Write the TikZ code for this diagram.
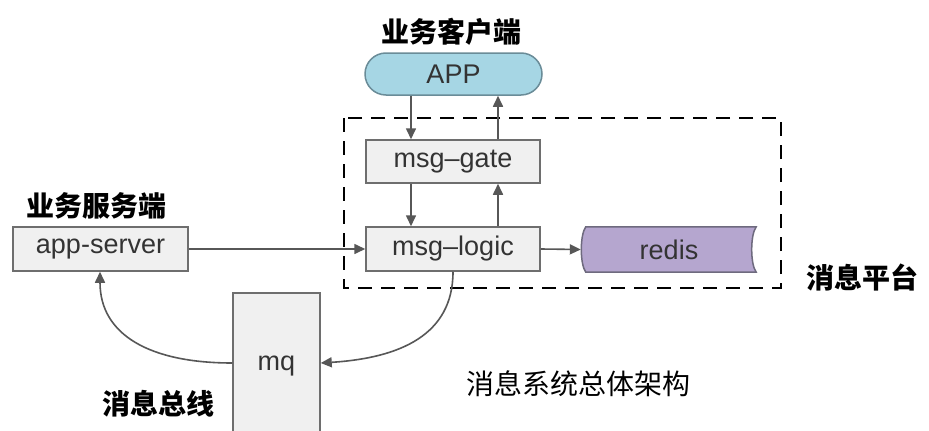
\documentclass[tikz,border=0pt]{standalone}
\usepackage{fontspec}
\setmainfont{Liberation Sans}
\newfontfamily\cjk{Noto Sans CJK SC}
\usetikzlibrary{arrows.meta}
\definecolor{boxfill}{HTML}{F0F0F0}
\definecolor{boxline}{HTML}{6E6E6E}
\definecolor{appfill}{HTML}{A6D6E4}
\definecolor{appline}{HTML}{6A8C98}
\definecolor{redisfill}{HTML}{B5A6CF}
\definecolor{redisline}{HTML}{6E6A7E}
\definecolor{arrowcol}{HTML}{575757}
\definecolor{txt}{HTML}{333333}
\tikzset{
  box/.style={draw=boxline, fill=boxfill, line width=1.5pt, inner sep=0pt,
    font=\fontsize{27}{30}\selectfont, text=txt},
  conn/.style={draw=arrowcol, line width=1.6pt, -{Triangle[length=11pt,width=10pt]}},
  blabel/.style={font=\cjk\bfseries\fontsize{28}{30}\selectfont, text=black, inner sep=0pt},
  tlabel/.style={font=\cjk\fontsize{28}{30}\selectfont, text=black, inner sep=0pt},
  platform/.style={draw=black, line width=2pt, dash pattern=on 14pt off 9pt}
}
\begin{document}
\begin{tikzpicture}[x=1pt,y=-1pt]
\useasboundingbox (0,0) rectangle (929,431);
\fill[white] (0,0) rectangle (929,431);

% platform dashed frame
\draw[platform] (344,118) rectangle (781,288);

% nodes
\node[box, fill=appfill, draw=appline, rounded corners=21pt,
      minimum width=177pt, minimum height=42pt] (app) at (453.5,74) {APP};
\node[box, minimum width=174pt, minimum height=43pt] (gate) at (453,161.5) {msg–gate};
\node[box, minimum width=174pt, minimum height=44pt] (logic) at (453,249) {msg–logic};
\node[box, minimum width=175pt, minimum height=44pt] (server) at (100.5,249) {app-server};
\node[box, minimum width=87pt, minimum height=140pt, text depth=0pt] (mq) at (276.5,363) {mq};

% redis stored-data shape
\node[inner sep=0pt, minimum width=176pt, minimum height=45pt,
      font=\fontsize{27}{30}\selectfont, text=txt] (redis) at (669,249.5) {};
\begin{scope}[on background layer/.try]
\end{scope}
\filldraw[fill=redisfill, draw=redisline, line width=1.5pt]
  ([xshift=5pt]redis.north west) -- ([xshift=-1pt]redis.north east)
  .. controls ([xshift=-7pt,yshift=-8pt]redis.north east) and ([xshift=-7pt,yshift=8pt]redis.south east) .. ([xshift=-1pt]redis.south east)
  -- ([xshift=5pt]redis.south west)
  .. controls ([xshift=-1pt,yshift=8pt]redis.south west) and ([xshift=-1pt,yshift=-8pt]redis.north west) .. ([xshift=5pt]redis.north west) -- cycle;
\node[font=\fontsize{27}{30}\selectfont, text=txt] at (redis.center) {redis};

% connectors
\draw[conn] (app.south -| 411,0) -- (gate.north -| 411,0);
\draw[conn] (gate.north -| 498,0) -- (app.south -| 498,0);
\draw[conn] (gate.south -| 411,0) -- (logic.north -| 411,0);
\draw[conn] (logic.north -| 498,0) -- (gate.south -| 498,0);
\draw[conn] (server.east) -- (logic.west);
\draw[conn] (logic.east) -- (redis.west);
\draw[conn] (logic.south) .. controls (453,335) and (400,358) .. (mq.east);
\draw[conn] (mq.west) .. controls (150,363) and (100,335) .. (server.south -| 100,0);

% labels
\node[blabel] (lclient) at (451,32) {业务客户端};
\node[blabel] (lserver) at (97,206) {业务服务端};
\node[blabel] (lplat) at (862,278) {消息平台};
\node[blabel] (lbus) at (158,404) {消息总线};
\node[tlabel] (ltitle) at (578,384) {消息系统总体架构};
\end{tikzpicture}
\end{document}
